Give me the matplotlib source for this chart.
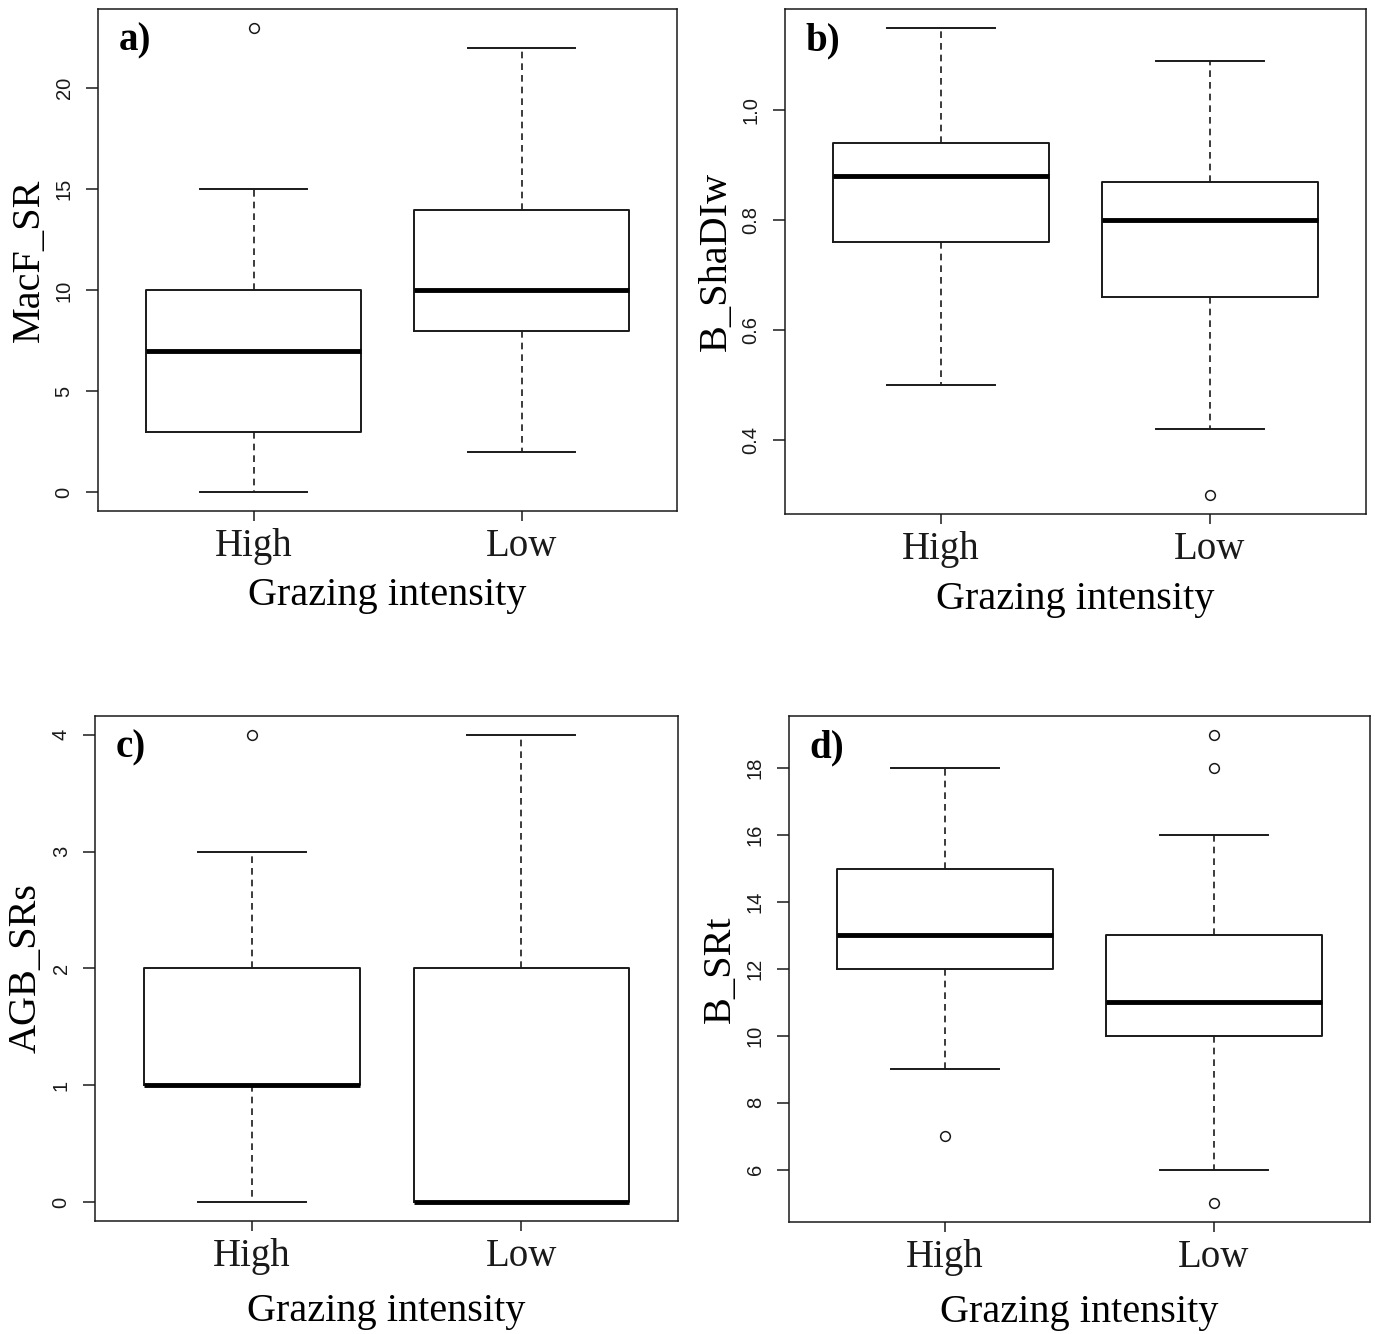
import matplotlib
matplotlib.use("Agg")
import matplotlib.pyplot as plt
from matplotlib.ticker import FormatStrFormatter

# Five-number summaries (High, Low grazing)
groups = ['High', 'Low']

macf_q = [[0, 3, 7, 10, 15], [2, 8, 10, 14, 22]]
macf_out = [[23], []]

shad_q = [[0.50, 0.76, 0.88, 0.94, 1.15], [0.42, 0.66, 0.80, 0.87, 1.09]]
shad_out = [[], [0.30]]

agb_q = [[0, 1, 1, 2, 3], [0, 0, 0, 2, 4]]
agb_out = [[4], []]

srt_q = [[9, 12, 13, 15, 18], [6, 10, 11, 13, 16]]
srt_out = [[7], [18, 19, 5]]

panels = [
    ('a)', 'MacF_SR', macf_q, macf_out, [0, 5, 10, 15, 20], '%d'),
    ('b)', 'B_ShaDIw', shad_q, shad_out, [0.4, 0.6, 0.8, 1.0], '%.1f'),
    ('c)', 'AGB_SRs', agb_q, agb_out, [0, 1, 2, 3, 4], '%d'),
    ('d)', 'B_SRt', srt_q, srt_out, [6, 8, 10, 12, 14, 16, 18], '%d'),
]

# axes rectangles [left, bottom, width, height] in figure fractions
rects = [
    [0.0713, 0.6169, 0.4211, 0.3763],
    [0.5709, 0.6147, 0.4226, 0.3786],
    [0.0691, 0.0847, 0.4240, 0.3786],
    [0.5738, 0.0840, 0.4226, 0.3793],
]
xlab_y = [-0.132, -0.132, -0.143, -0.143]

ink = '#1a1a1a'
serif = 'Liberation Serif'
sans = 'Liberation Sans'

fig = plt.figure(figsize=(13.75, 13.34), dpi=100)

for (letter, ylab, quants, outs, yticks, fmt), rect, ly in zip(panels, rects, xlab_y):
    ax = fig.add_axes(rect)
    stats = []
    for q, o in zip(quants, outs):
        stats.append(dict(whislo=q[0], q1=q[1], med=q[2], q3=q[3], whishi=q[4], fliers=o))
    ax.bxp(stats, positions=[1, 2], widths=0.8, capwidths=0.4,
           boxprops=dict(color=ink, linewidth=1.4),
           medianprops=dict(color='black', linewidth=3.5, solid_capstyle='butt'),
           whiskerprops=dict(color=ink, linewidth=1.2, linestyle=(0, (4, 3))),
           capprops=dict(color=ink, linewidth=1.4),
           flierprops=dict(marker='o', markerfacecolor='none', markeredgecolor=ink,
                           markersize=7, markeredgewidth=1.1))

    # R-style 4% axis extension
    vals = [v for q in quants for v in q] + [v for o in outs for v in o]
    lo, hi = min(vals), max(vals)
    pad = 0.04 * (hi - lo)
    ax.set_ylim(lo - pad, hi + pad)
    ax.set_xlim(0.42, 2.58)

    ax.set_yticks(yticks)
    ax.yaxis.set_major_formatter(FormatStrFormatter(fmt))
    ax.set_xticks([1, 2])
    ax.set_xticklabels(groups, fontfamily=serif, fontsize=28)

    ax.tick_params(axis='y', length=8.5, width=1.1, pad=9, labelsize=14.5,
                   labelrotation=90, colors=ink)
    ax.tick_params(axis='x', length=7, width=1.1, pad=5, colors=ink)
    for lab in ax.get_yticklabels():
        lab.set_fontfamily(sans)
        lab.set_va('center')
    for sp in ax.spines.values():
        sp.set_linewidth(1.1)
        sp.set_color(ink)

    ax.set_xlabel('Grazing intensity', fontfamily=serif, fontsize=29)
    ax.xaxis.set_label_coords(0.5, ly)
    ax.set_ylabel(ylab, fontfamily=serif, fontsize=29)
    ax.yaxis.set_label_coords(-0.087, 0.5)

    ax.text(0.035, 0.918, letter, transform=ax.transAxes, fontfamily=serif,
            fontweight='bold', fontsize=28, ha='left', va='baseline')

fig.savefig('out.png', dpi=100)
